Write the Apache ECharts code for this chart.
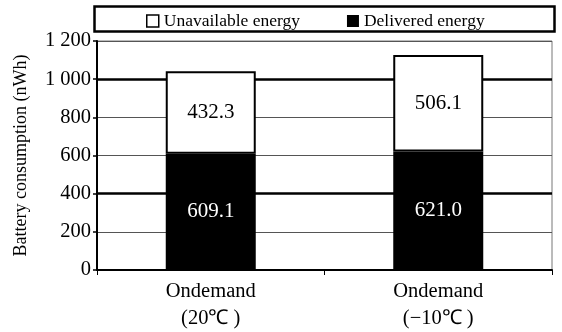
<!DOCTYPE html>
<html><head><meta charset="utf-8">
<script src="https://cdn.jsdelivr.net/npm/echarts@6/dist/echarts.min.js"></script>
<style>html,body{margin:0;padding:0;background:#fff}#c{width:562px;height:332px}</style>
</head><body><div id="c"></div>
<script>
const categories = ['Ondemand\n(20\u2103 )', 'Ondemand\n(\u221210\u2103 )'];
const delivered = [609.1, 621.0];
const unavailable = [432.3, 506.1];
const yTicks = [0, 200, 400, 600, 800, 1000, 1200];
const heavyGrid = [400, 1000];
const F = '"Liberation Serif","Times New Roman",serif';
const chart = echarts.init(document.getElementById('c'), null, {renderer: 'canvas'});
chart.setOption({
  animation: false,
  backgroundColor: '#fff',
  grid: {left: 97, right: 10, top: 41, bottom: 60, show: true, borderColor: '#777', borderWidth: 1},
  graphic: [{type: 'rect', left: 92, top: 4, shape: {width: 460, height: 25}, style: {fill: 'none', stroke: '#000', lineWidth: 2.5}, z: 10}],
  legend: {
    left: 141, top: 7, itemGap: 47, itemWidth: 12, itemHeight: 12,
    textStyle: {fontFamily: F, fontSize: 17.5, color: '#000', padding: [2, 0, 0, 0]},
    data: [
      {name: 'Unavailable energy', icon: 'rect', itemStyle: {color: '#fff', borderColor: '#000', borderWidth: 1.5}},
      {name: 'Delivered energy', icon: 'rect', itemStyle: {color: '#000'}}
    ]
  },
  xAxis: {
    type: 'category', data: categories,
    axisLine: {lineStyle: {color: '#000', width: 2}},
    axisTick: {show: true, length: 5, lineStyle: {color: '#000', width: 1}},
    axisLabel: {fontFamily: F, fontSize: 20.5, color: '#000', margin: 8, lineHeight: 27}
  },
  yAxis: {
    type: 'value', min: 0, max: 1200, interval: 200,
    name: 'Battery consumption (nWh)', nameLocation: 'middle', nameGap: 67,
    nameTextStyle: {fontFamily: F, fontSize: 18, color: '#000'},
    axisLine: {show: true, lineStyle: {color: '#000', width: 2}},
    axisTick: {show: true, length: 4, lineStyle: {color: '#000', width: 1.5}},
    axisLabel: {fontFamily: F, fontSize: 20.5, color: '#000', margin: 6,
      formatter: v => v >= 1000 ? Math.floor(v / 1000) + ' ' + String(v % 1000).padStart(3, '0') : String(v)},
    splitLine: {show: true, lineStyle: {color: '#555', width: 1.2}}
  },
  series: [
    {
      name: 'Delivered energy', type: 'bar', stack: 'e', barWidth: 90, data: delivered,
      itemStyle: {color: '#000'},
      label: {show: true, position: 'inside', fontFamily: F, fontSize: 21, color: '#fff', formatter: p => p.value.toFixed(1)},
      markLine: {symbol: 'none', silent: true, label: {show: false}, z: 1,
        lineStyle: {color: '#000', width: 2.5, type: 'solid'},
        data: heavyGrid.map(v => ({yAxis: v}))}
    },
    {
      name: 'Unavailable energy', type: 'bar', stack: 'e', barWidth: 90, data: unavailable,
      itemStyle: {color: '#fff', borderColor: '#000', borderWidth: 2},
      label: {show: true, position: 'inside', fontFamily: F, fontSize: 21, color: '#000', formatter: p => p.value.toFixed(1)}
    }
  ]
});
</script></body></html>
